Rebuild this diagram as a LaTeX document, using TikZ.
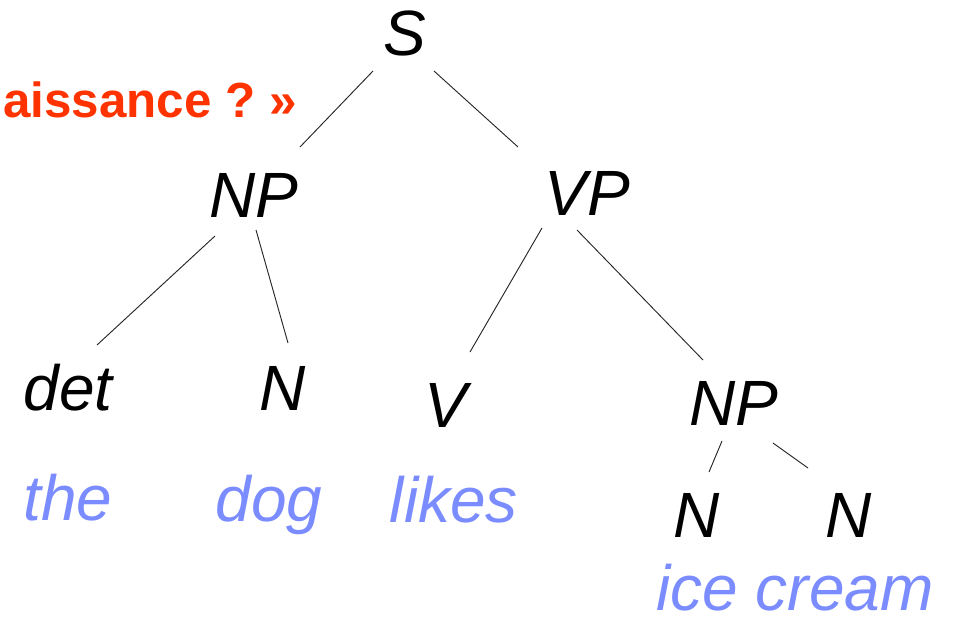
\documentclass[tikz,border=0pt]{standalone}
\usepackage{fontspec}
\setmainfont{Liberation Sans}
\usepackage{tikz}

\definecolor{wordblue}{RGB}{122,140,255}
\definecolor{titlered}{RGB}{255,51,0}

\tikzset{
    cat/.style={font=\fontsize{48}{56}\selectfont\itshape, inner sep=0pt, anchor=base},
    word/.style={cat, text=wordblue},
    headline/.style={font=\fontsize{37}{44}\selectfont\bfseries, text=titlered, inner sep=0pt, anchor=base east},
    branch/.style={line width=0.7pt, black!85}
}

\begin{document}
\begin{tikzpicture}[x=0.75pt, y=-0.75pt]
    \useasboundingbox (0,0) rectangle (957,622);
    \node[headline] (title) at (297,117) {aissance ?~»};
    % categories
    \node[cat] (S) at (405,55) {S};
    \node[cat] (NPa) at (254,217) {NP};
    \node[cat] (VP) at (587,215) {VP};
    \node[cat] (det) at (68,410) {det};
    \node[cat] (Na) at (283,410) {N};
    \node[cat] (V) at (446,427) {V};
    \node[cat] (NPb) at (734,425) {NP};
    \node[cat] (Nb) at (697,537) {N};
    \node[cat] (Nc) at (849,537) {N};
    % words
    \node[word] (the) at (68,520) {the};
    \node[word] (dog) at (269,521) {dog};
    \node[word] (likes) at (454,522) {likes};
    \node[word] (icecream) at (795,610) {ice cream};
    % branches
    \draw[branch] ([shift={(-32,16)}]S.base) -- ([shift={(46,-70)}]NPa.base);
    \draw[branch] ([shift={(29,16)}]S.base) -- ([shift={(-69,-68)}]VP.base);
    \draw[branch] ([shift={(-39,19)}]NPa.base) -- ([shift={(29,-65)}]det.base);
    \draw[branch] ([shift={(2,13)}]NPa.base) -- ([shift={(5,-67)}]Na.base);
    \draw[branch] ([shift={(-45,13)}]VP.base) -- ([shift={(24,-75)}]V.base);
    \draw[branch] ([shift={(-10,15)}]VP.base) -- ([shift={(-31,-65)}]NPb.base);
    \draw[branch] ([shift={(-12,16)}]NPb.base) -- ([shift={(12,-65)}]Nb.base);
    \draw[branch] ([shift={(39,18)}]NPb.base) -- ([shift={(-41,-69)}]Nc.base);
\end{tikzpicture}
\end{document}
